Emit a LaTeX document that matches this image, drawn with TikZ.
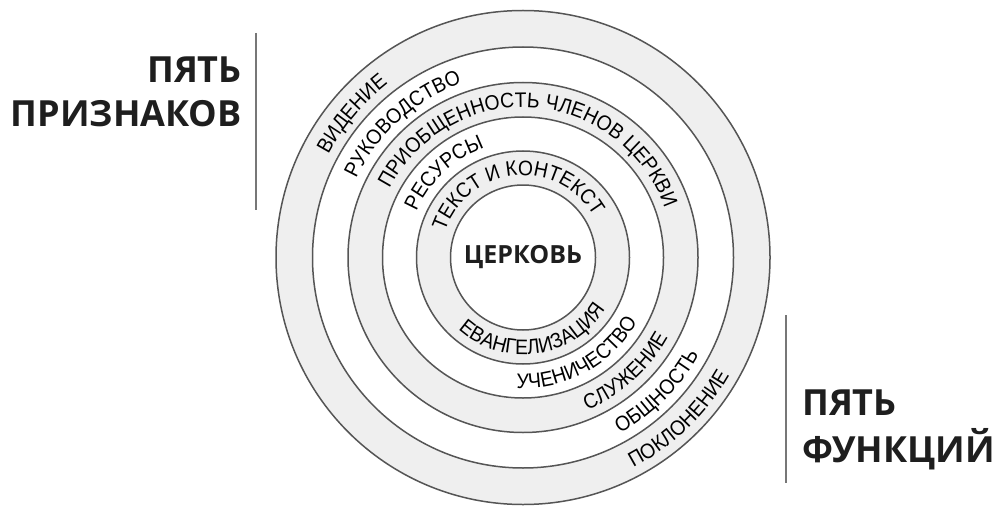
\documentclass[tikz,border=0pt]{standalone}
\usepackage{fontspec}
\setmainfont{Liberation Sans}
\newfontfamily\labelfont{Open Sans}
\newfontfamily\ringff[FakeStretch=0.92]{Liberation Sans}
\usetikzlibrary{decorations.text}
\definecolor{ringfill}{HTML}{EFEFEF}
\definecolor{ringline}{HTML}{555555}
\definecolor{txt}{HTML}{1E1E1E}
\definecolor{divline}{HTML}{777777}
\newcommand\ringfont{\ringff\fontsize{21}{24}\selectfont}
% upper text: centre angle, baseline radius, text (letters point outward)
\newcommand\ringup[3]{%
  \pgfmathsetmacro\rsA{#1+90}\pgfmathsetmacro\rsB{#1-90}%
  \path[color=txt,decorate,decoration={text along path,text align=center,text={|\ringfont|#3}}]
    ([shift={(\rsA:#2)}]c) arc[start angle=\rsA,end angle=\rsB,radius=#2];}
% lower text: centre angle, baseline radius, text (letters point inward)
\newcommand\ringdown[3]{%
  \pgfmathsetmacro\rsA{#1-90}\pgfmathsetmacro\rsB{#1+90}%
  \path[color=txt,decorate,decoration={text along path,text align=center,text={|\ringfont|#3}}]
    ([shift={(\rsA:#2)}]c) arc[start angle=\rsA,end angle=\rsB,radius=#2];}
\begin{document}
\begin{tikzpicture}[x=1pt,y=1pt,
  ring/.style={draw=ringline,line width=1.5pt},
  lbl/.style={font=\labelfont\bfseries\fontsize{36}{40}\selectfont,inner sep=0pt,text=txt},
  divider/.style={draw=divline,line width=1.4pt}]
\useasboundingbox (0,0) rectangle (998,507);
\coordinate (c) at (523,249.5);
\foreach \r/\f in {247/ringfill,210.5/white,175/ringfill,140.5/white,106.5/ringfill,72.5/white}
  \filldraw[ring,fill=\f] (c) circle[radius=\r];
% five signs
\ringup{140}{220}{ВИДЕНИЕ}
\ringup{132}{184.5}{РУКОВОДСТВО}
\ringup{86}{150}{ПРИОБЩЕННОСТЬ ЧЛЕНОВ ЦЕРКВИ}
\ringup{133}{116}{РЕСУРСЫ}
\ringup{96}{82}{ТЕКСТ И КОНТЕКСТ}
% five functions
\ringdown{-46}{237.5}{ПОКЛОНЕНИЕ}
\ringdown{-45}{201}{ОБЩНОСТЬ}
\ringdown{-48}{165.5}{СЛУЖЕНИЕ}
\ringdown{-61}{131}{УЧЕНИЧЕСТВО}
\ringdown{-82}{97}{ЕВАНГЕЛИЗАЦИЯ}
\node[font=\labelfont\bfseries\fontsize{25}{25}\selectfont,text=txt] (church) at (c) {ЦЕРКОВЬ};
% side labels
\node[lbl,anchor=base east] (p1) at (242,424) {ПЯТЬ};
\node[lbl,anchor=base east] (p2) at (242,380) {ПРИЗНАКОВ};
\node[lbl,anchor=base west] (f1) at (802,92) {ПЯТЬ};
\node[lbl,anchor=base west] (f2) at (802,45) {ФУНКЦИЙ};
\coordinate (l1a) at (256,474);
\coordinate (l1b) at (256,297);
\coordinate (l2a) at (786,192);
\coordinate (l2b) at (786,24);
\draw[divider] (l1a) -- (l1b);
\draw[divider] (l2a) -- (l2b);
\end{tikzpicture}
\end{document}
